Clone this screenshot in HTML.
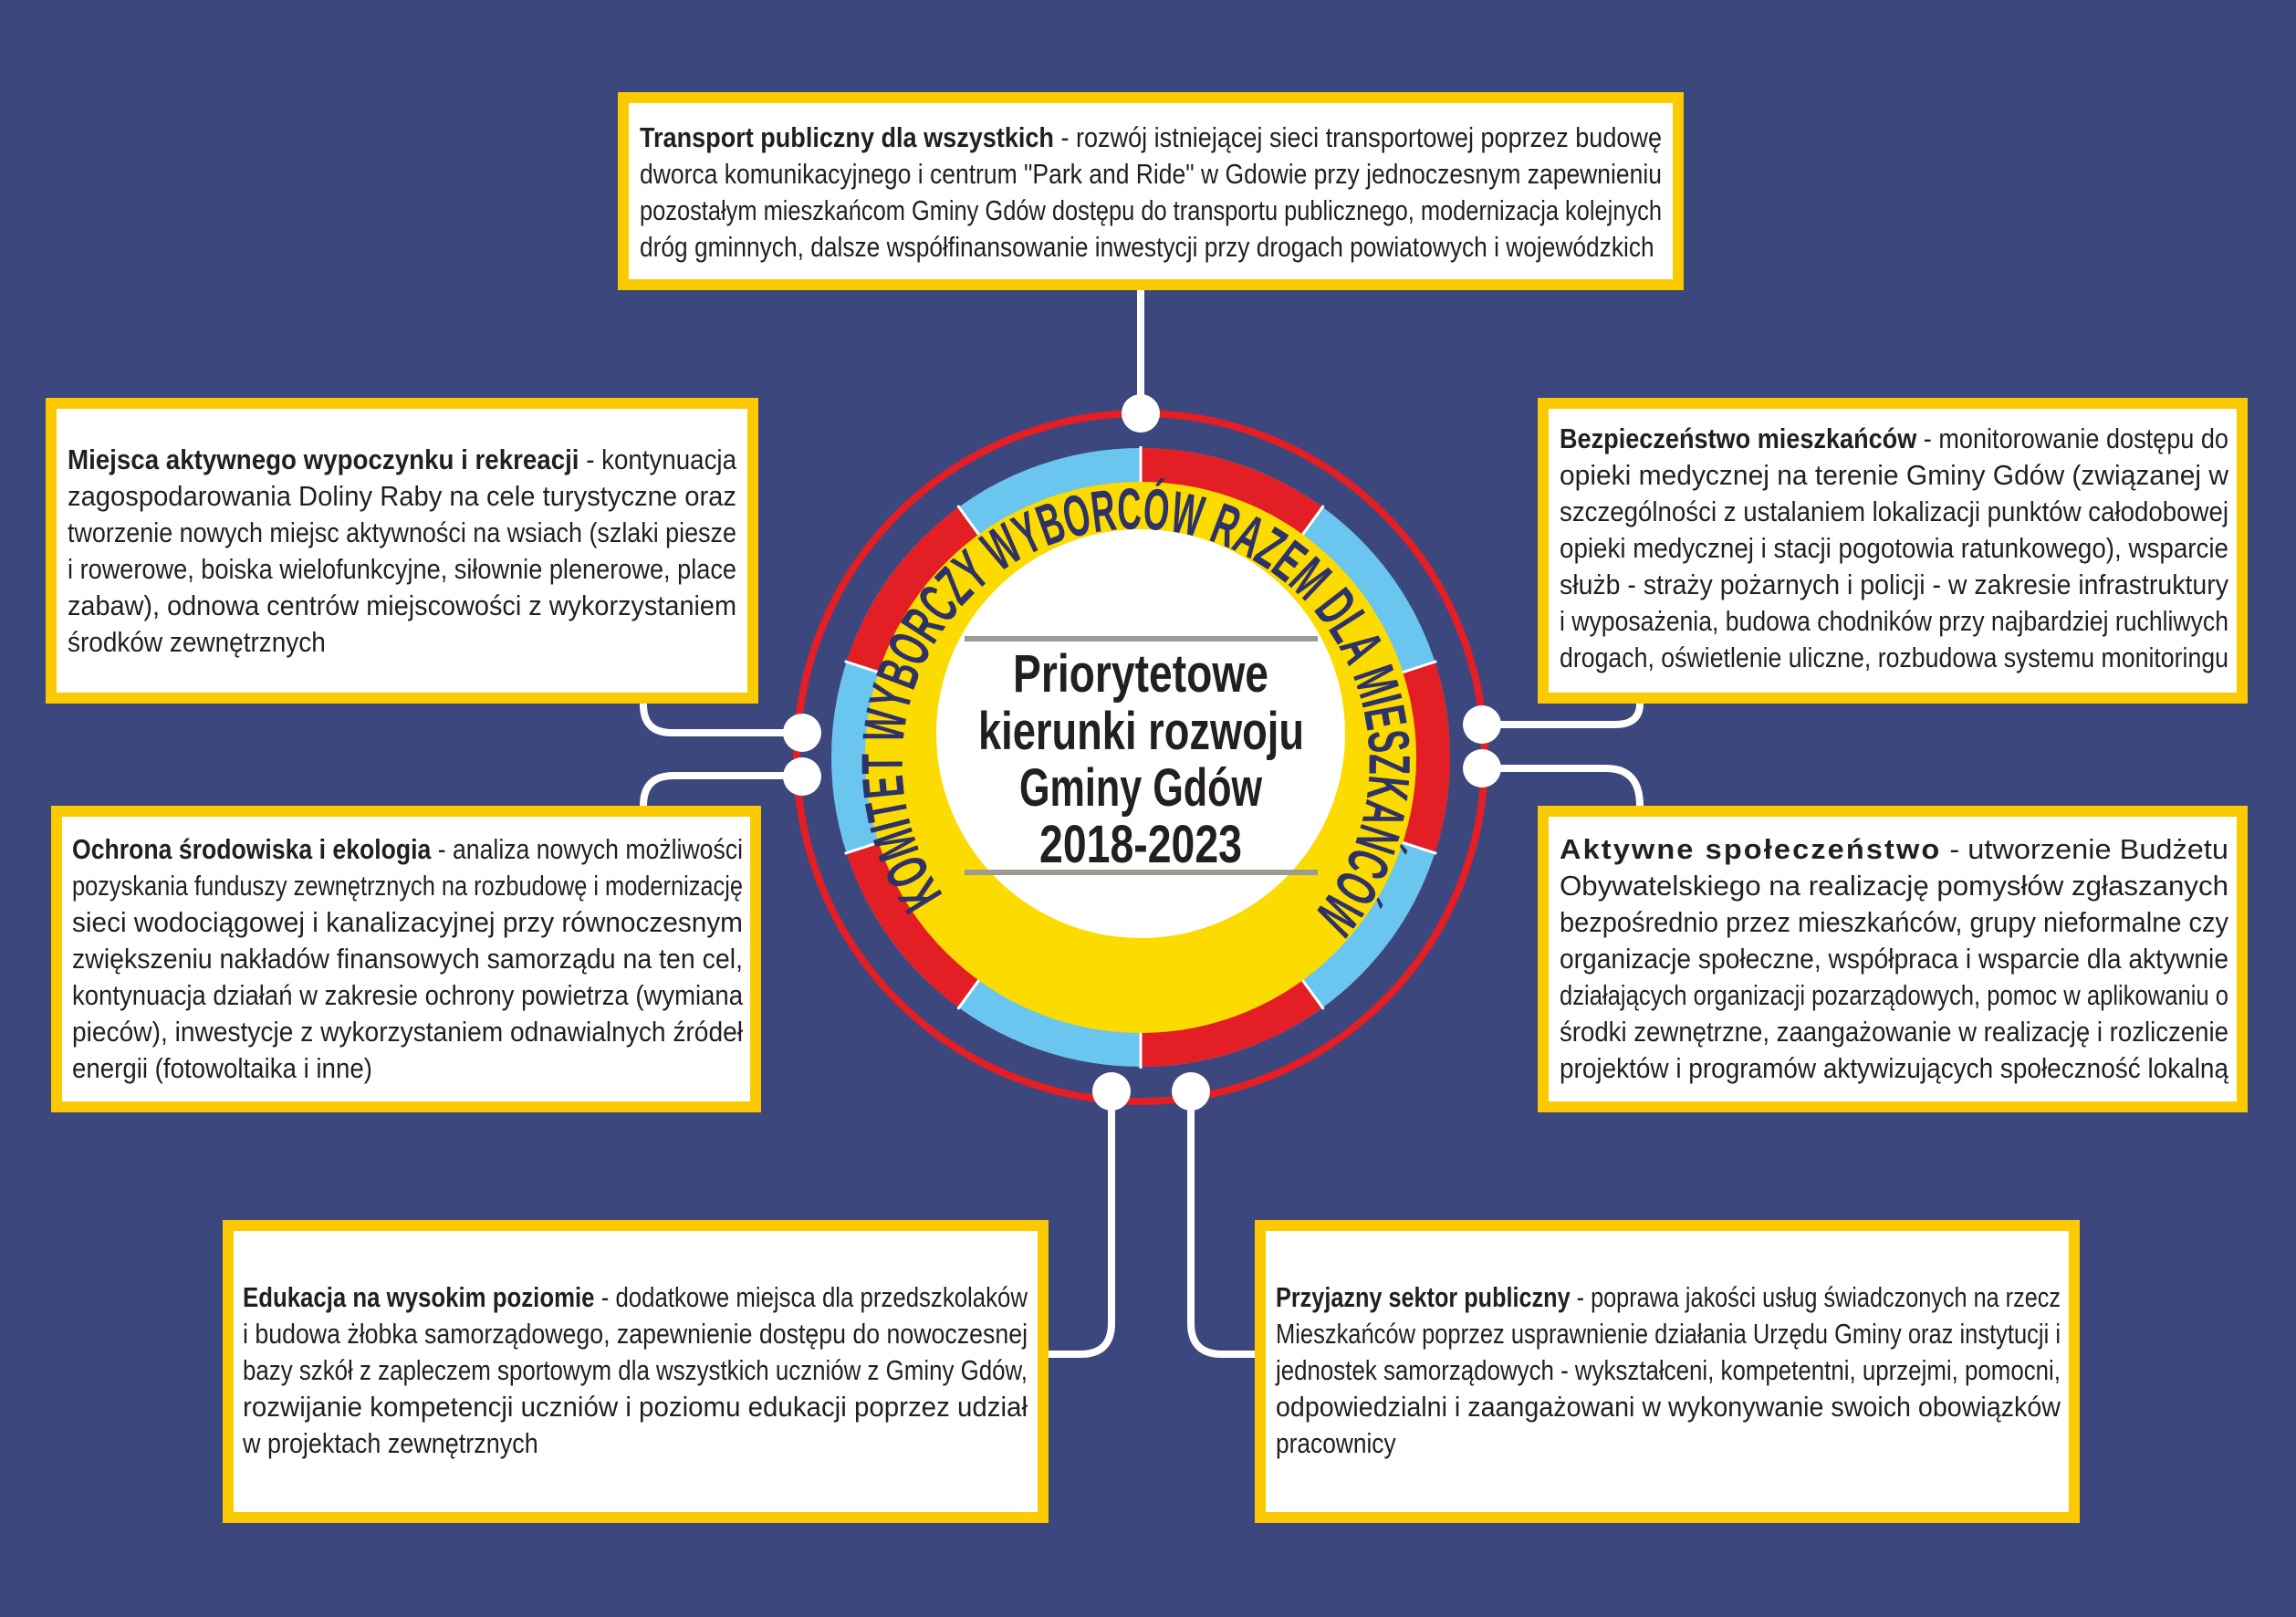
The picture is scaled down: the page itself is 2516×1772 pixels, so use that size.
<!DOCTYPE html>
<html><head><meta charset="utf-8">
<style>
html,body{margin:0;padding:0}
body{width:2516px;height:1772px;background:#3c477d;position:relative;overflow:hidden;font-family:"Liberation Sans",sans-serif;}
.box{position:absolute;background:#fff;border:12px solid #fcca00;box-sizing:border-box;}
.txt{position:absolute;font-size:31px;line-height:40px;color:#231f20;}
.txt div{white-space:nowrap;height:40px;}
.txt div span{display:inline-block;transform-origin:0 0;white-space:nowrap;}
b{font-weight:bold;}
svg{position:absolute;left:0;top:0}
</style></head><body>
<svg width="2516" height="1772" viewBox="0 0 2516 1772">
<g fill="none" stroke="#fff" stroke-width="8">
<line x1="1250" y1="318" x2="1250" y2="453"/>
<path d="M705 771 V772 Q705 803 736 803 H879"/>
<path d="M705 883 Q705 850 738 850 H879"/>
<path d="M1797 771 Q1797 794 1770 794 H1624"/>
<path d="M1797 883 Q1797 842 1760 842 H1624"/>
<path d="M1218 1195 V1450 Q1218 1484 1184 1484 H1149"/>
<path d="M1305 1195 V1450 Q1305 1484 1339 1484 H1375"/>
</g>
<circle cx="1250" cy="830" r="377" fill="none" stroke="#e31e24" stroke-width="8"/>
<circle cx="1250" cy="830" r="320" fill="none" stroke="#6ac6ee" stroke-width="38"/>
<g fill="none" stroke="#e31e24" stroke-width="38" id="reds"></g>
<circle cx="1250" cy="830" r="302" fill="#fcdb00"/>
<circle cx="1250" cy="804" r="224" fill="#fff"/>
<line x1="1057" y1="700" x2="1444" y2="700" stroke="#9b9b94" stroke-width="6"/>
<line x1="1057" y1="956" x2="1444" y2="956" stroke="#9b9b94" stroke-width="6"/>
<g font-family="'Liberation Sans',sans-serif" font-weight="bold" font-size="58" fill="#231f20">
<text x="1110" y="758" textLength="280" lengthAdjust="spacingAndGlyphs">Priorytetowe</text>
<text x="1072" y="821" textLength="357" lengthAdjust="spacingAndGlyphs">kierunki rozwoju</text>
<text x="1117" y="883" textLength="266" lengthAdjust="spacingAndGlyphs">Gminy Gdów</text>
<text x="1139" y="945" textLength="222" lengthAdjust="spacingAndGlyphs">2018-2023</text>
</g>
<path id="arc" d="M1034 981 A256 256 0 1 1 1440 1001" fill="none"/>
<text font-family="'Liberation Sans',sans-serif" font-weight="bold" font-size="64" fill="#2e3266"><textPath href="#arc" textLength="1140" lengthAdjust="spacingAndGlyphs">KOMITET WYBORCZY WYBORCÓW RAZEM DLA MIESZKAŃCÓW</textPath></text>
<g fill="#fff">
<circle cx="1250" cy="453" r="21"/>
<circle cx="879" cy="803" r="21"/><circle cx="879" cy="851" r="21"/>
<circle cx="1624" cy="794" r="21"/><circle cx="1624" cy="842" r="21"/>
<circle cx="1218" cy="1196" r="21"/><circle cx="1305" cy="1196" r="21"/>
</g>
</svg>

<div class="box" style="left:677px;top:101px;width:1168px;height:217px"></div>
<div class="txt" style="left:701px;top:131px;width:1120px">
<div><span><b>Transport publiczny dla wszystkich</b> - rozwój istniejącej sieci transportowej poprzez budowę</span></div>
<div><span>dworca komunikacyjnego i centrum "Park and Ride" w Gdowie przy jednoczesnym zapewnieniu</span></div>
<div><span>pozostałym mieszkańcom Gminy Gdów dostępu do transportu publicznego, modernizacja kolejnych</span></div>
<div class="l"><span>dróg gminnych, dalsze współfinansowanie inwestycji przy drogach powiatowych i wojewódzkich</span></div>
</div>

<div class="box" style="left:50px;top:436px;width:781px;height:335px"></div>
<div class="txt" style="left:74px;top:484px;width:733px">
<div><span><b>Miejsca aktywnego wypoczynku i rekreacji</b> - kontynuacja</span></div>
<div><span>zagospodarowania Doliny Raby na cele turystyczne oraz</span></div>
<div><span>tworzenie nowych miejsc aktywności na wsiach (szlaki piesze</span></div>
<div><span>i rowerowe, boiska wielofunkcyjne, siłownie plenerowe, place</span></div>
<div><span>zabaw), odnowa centrów miejscowości z wykorzystaniem</span></div>
<div class="l"><span>środków zewnętrznych</span></div>
</div>

<div class="box" style="left:56px;top:883px;width:778px;height:336px"></div>
<div class="txt" style="left:79px;top:911px;width:735px">
<div><span><b>Ochrona środowiska i ekologia</b> - analiza nowych możliwości</span></div>
<div><span>pozyskania funduszy zewnętrznych na rozbudowę i modernizację</span></div>
<div><span>sieci wodociągowej i kanalizacyjnej przy równoczesnym</span></div>
<div><span>zwiększeniu nakładów finansowych samorządu na ten cel,</span></div>
<div><span>kontynuacja działań w zakresie ochrony powietrza (wymiana</span></div>
<div><span>pieców), inwestycje z wykorzystaniem odnawialnych źródeł</span></div>
<div class="l"><span>energii (fotowoltaika i inne)</span></div>
</div>

<div class="box" style="left:1685px;top:436px;width:778px;height:335px"></div>
<div class="txt" style="left:1709px;top:461px;width:733px">
<div><span><b>Bezpieczeństwo mieszkańców</b> - monitorowanie dostępu do</span></div>
<div><span>opieki medycznej na terenie Gminy Gdów (związanej w</span></div>
<div><span>szczególności z ustalaniem lokalizacji punktów całodobowej</span></div>
<div><span>opieki medycznej i stacji pogotowia ratunkowego), wsparcie</span></div>
<div><span>służb - straży pożarnych i policji - w zakresie infrastruktury</span></div>
<div><span>i wyposażenia, budowa chodników przy najbardziej ruchliwych</span></div>
<div class="l"><span>drogach, oświetlenie uliczne, rozbudowa systemu monitoringu</span></div>
</div>

<div class="box" style="left:1685px;top:883px;width:778px;height:336px"></div>
<div class="txt" style="left:1709px;top:911px;width:733px">
<div><span><b style="letter-spacing:2px">Aktywne społeczeństwo</b> - utworzenie Budżetu</span></div>
<div><span>Obywatelskiego na realizację pomysłów zgłaszanych</span></div>
<div><span>bezpośrednio przez mieszkańców, grupy nieformalne czy</span></div>
<div><span>organizacje społeczne, współpraca i wsparcie dla aktywnie</span></div>
<div><span>działających organizacji pozarządowych, pomoc w aplikowaniu o</span></div>
<div><span>środki zewnętrzne, zaangażowanie w realizację i rozliczenie</span></div>
<div class="l"><span>projektów i programów aktywizujących społeczność lokalną</span></div>
</div>

<div class="box" style="left:244px;top:1337px;width:905px;height:332px"></div>
<div class="txt" style="left:266px;top:1402px;width:860px">
<div><span><b>Edukacja na wysokim poziomie</b> - dodatkowe miejsca dla przedszkolaków</span></div>
<div><span>i budowa żłobka samorządowego, zapewnienie dostępu do nowoczesnej</span></div>
<div><span>bazy szkół z zapleczem sportowym dla wszystkich uczniów z Gminy Gdów,</span></div>
<div><span>rozwijanie kompetencji uczniów i poziomu edukacji poprzez udział</span></div>
<div class="l"><span>w projektach zewnętrznych</span></div>
</div>

<div class="box" style="left:1375px;top:1337px;width:904px;height:332px"></div>
<div class="txt" style="left:1398px;top:1402px;width:860px">
<div><span><b>Przyjazny sektor publiczny</b> - poprawa jakości usług świadczonych na rzecz</span></div>
<div><span>Mieszkańców poprzez usprawnienie działania Urzędu Gminy oraz instytucji i</span></div>
<div><span>jednostek samorządowych - wykształceni, kompetentni, uprzejmi, pomocni,</span></div>
<div><span>odpowiedzialni i zaangażowani w wykonywanie swoich obowiązków</span></div>
<div class="l"><span>pracownicy</span></div>
</div>
<script>
(function(){
var g=document.getElementById('reds'),cx=1250,cy=830,r=320,ns='http://www.w3.org/2000/svg';
function pt(a){a=a*Math.PI/180;return [cx+r*Math.sin(a),cy-r*Math.cos(a)];}
for(var i=0;i<10;i+=2){var a0=i*36,a1=a0+36,p0=pt(a0),p1=pt(a1);
var p=document.createElementNS(ns,'path');p.setAttribute('d','M'+p0[0]+' '+p0[1]+' A'+r+' '+r+' 0 0 1 '+p1[0]+' '+p1[1]);g.appendChild(p);}
for(var j=0;j<10;j++){var a=j*36*Math.PI/180;var l=document.createElementNS(ns,'line');
l.setAttribute('x1',cx+300*Math.sin(a));l.setAttribute('y1',cy-300*Math.cos(a));
l.setAttribute('x2',cx+341*Math.sin(a));l.setAttribute('y2',cy-341*Math.cos(a));
l.setAttribute('stroke','#fff');l.setAttribute('stroke-width','3');g.appendChild(l);}
var boxes=document.querySelectorAll('.txt');
for(var b=0;b<boxes.length;b++){
 var W=boxes[b].clientWidth,divs=boxes[b].children,sum=0,n=0;
 for(var k=0;k<divs.length;k++){var s=divs[k].firstElementChild,w=s.getBoundingClientRect().width;
  if(!divs[k].classList.contains('l')){var sc=W/w;s.style.transform='scaleX('+sc+')';sum+=sc;n++;}}
 var avg=n?sum/n:1;
 for(var k=0;k<divs.length;k++){if(divs[k].classList.contains('l')){var s=divs[k].firstElementChild,w=s.getBoundingClientRect().width;var sc=Math.min(avg,W/w);s.style.transform='scaleX('+sc+')';}}
}
})();
</script>
</body></html>
